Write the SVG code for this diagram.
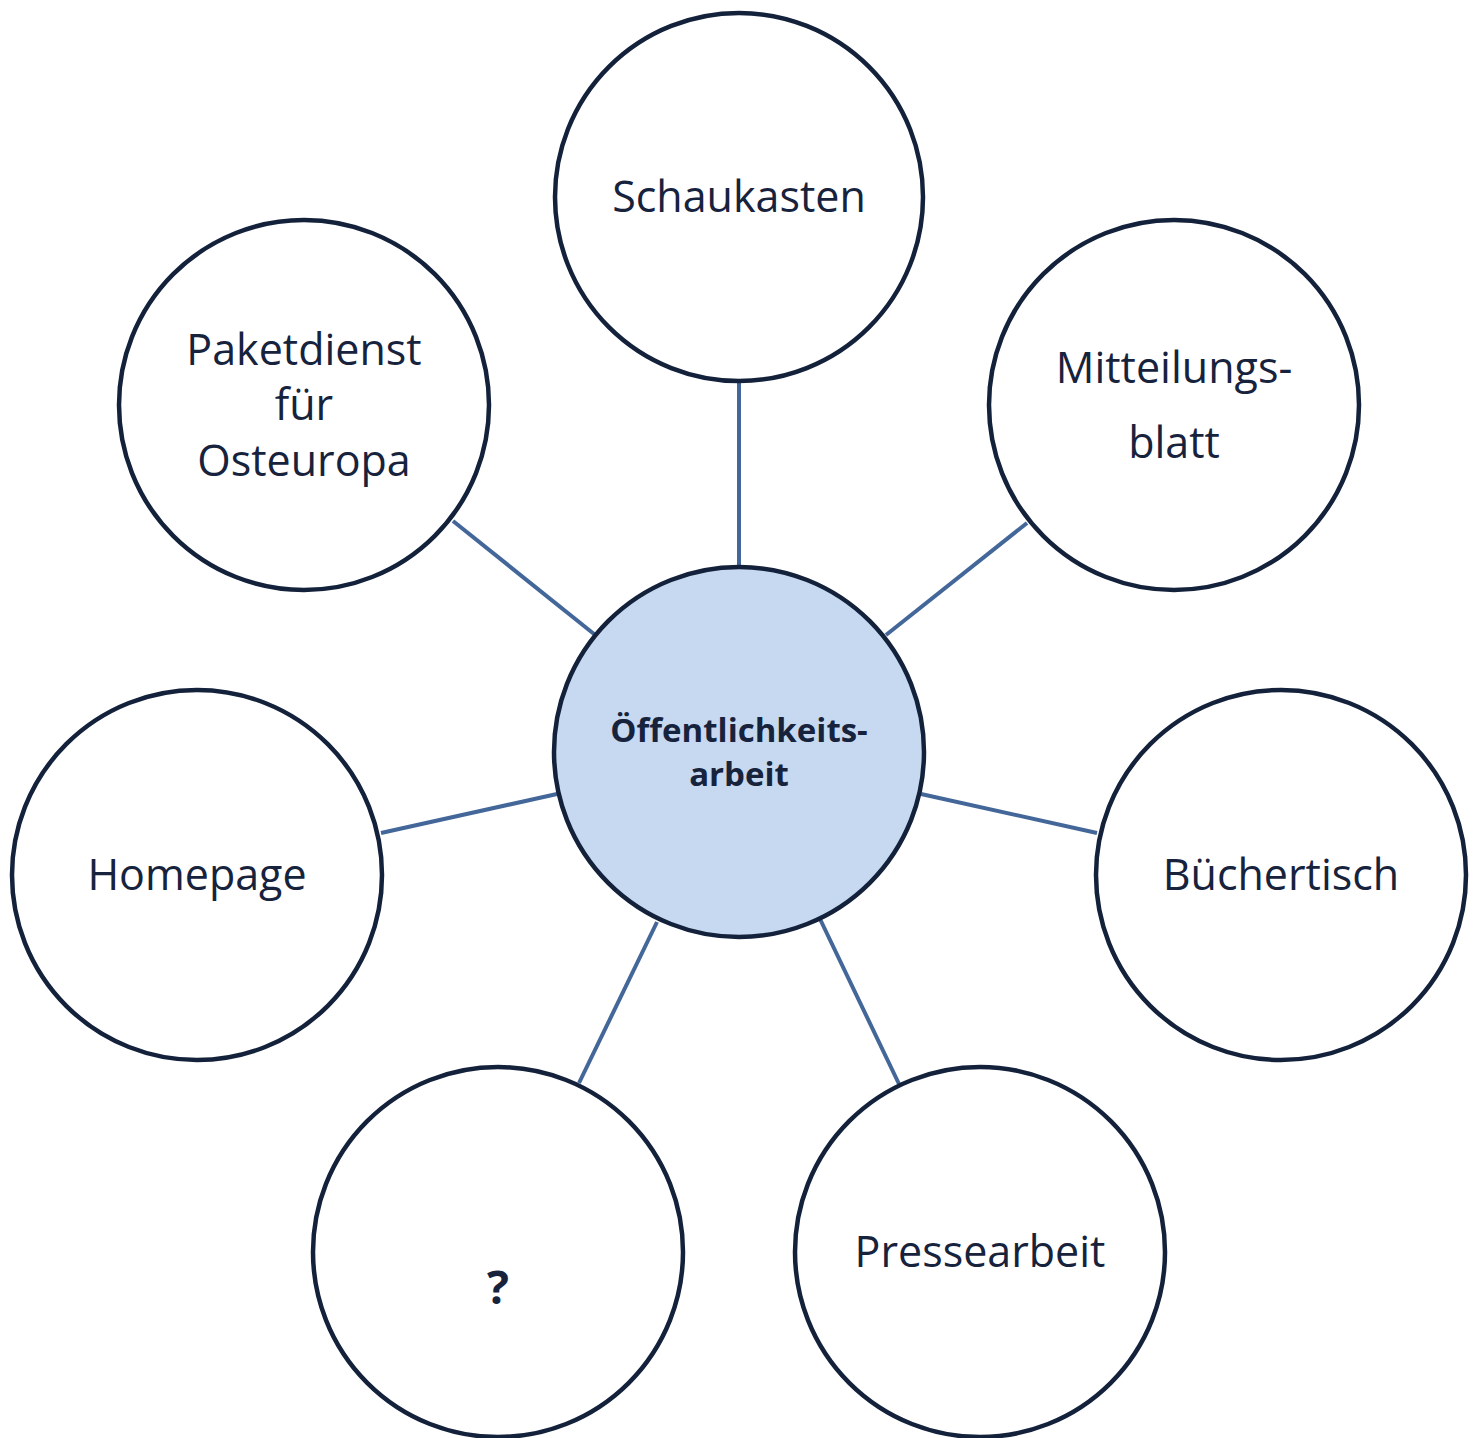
<svg xmlns="http://www.w3.org/2000/svg" width="1479" height="1438" viewBox="0 0 1479 1438">
<style>
.node{fill:#ffffff;stroke:#13213b;stroke-width:4.5}
.center{fill:#c6d9f0;stroke:#13213b;stroke-width:4.5}
.lbl{font-family:"Open Sans","Noto Sans",sans-serif;font-size:43px;fill:#17233d;text-anchor:middle}
.bold{font-family:"Open Sans","Noto Sans",sans-serif;font-weight:bold;font-size:33px;fill:#17233d;text-anchor:middle}
.q{font-family:"Open Sans","Noto Sans",sans-serif;font-weight:bold;font-size:46px;fill:#17233d;text-anchor:middle}
.conn line{stroke:#44679a;stroke-width:4}
</style>
<rect width="1479" height="1438" fill="#ffffff"/>
<g class="conn" id="connectors">
<line x1="739" y1="381" x2="739" y2="567"/>
<line x1="453" y1="521" x2="594" y2="634"/>
<line x1="1027" y1="523" x2="886" y2="635"/>
<line x1="381" y1="833" x2="557" y2="794"/>
<line x1="921" y1="794" x2="1097" y2="833"/>
<line x1="579" y1="1083" x2="657" y2="922"/>
<line x1="820" y1="919" x2="899" y2="1084"/>
</g>
<g id="center-node">
<circle class="center" cx="739" cy="752" r="185"/>
<text class="bold" x="739" y="742">Öffentlichkeits-</text>
<text class="bold" x="739" y="786">arbeit</text>
</g>
<g id="schaukasten">
<circle class="node" cx="739" cy="197" r="184"/>
<text class="lbl" x="739" y="212">Schaukasten</text>
</g>
<g id="paketdienst">
<circle class="node" cx="304" cy="405" r="185"/>
<text class="lbl" x="304" y="365">Paketdienst</text>
<text class="lbl" x="304" y="420">für</text>
<text class="lbl" x="304" y="476">Osteuropa</text>
</g>
<g id="mitteilungsblatt">
<circle class="node" cx="1174" cy="405" r="185"/>
<text class="lbl" x="1174" y="383">Mitteilungs-</text>
<text class="lbl" x="1174" y="458">blatt</text>
</g>
<g id="homepage">
<circle class="node" cx="197" cy="875" r="185"/>
<text class="lbl" x="197" y="890">Homepage</text>
</g>
<g id="buechertisch">
<circle class="node" cx="1281" cy="875" r="185"/>
<text class="lbl" x="1281" y="890">Büchertisch</text>
</g>
<g id="fragezeichen">
<circle class="node" cx="498" cy="1252" r="185"/>
<text class="q" x="498" y="1304">?</text>
</g>
<g id="pressearbeit">
<circle class="node" cx="980" cy="1252" r="185"/>
<text class="lbl" x="980" y="1267">Pressearbeit</text>
</g>
</svg>
